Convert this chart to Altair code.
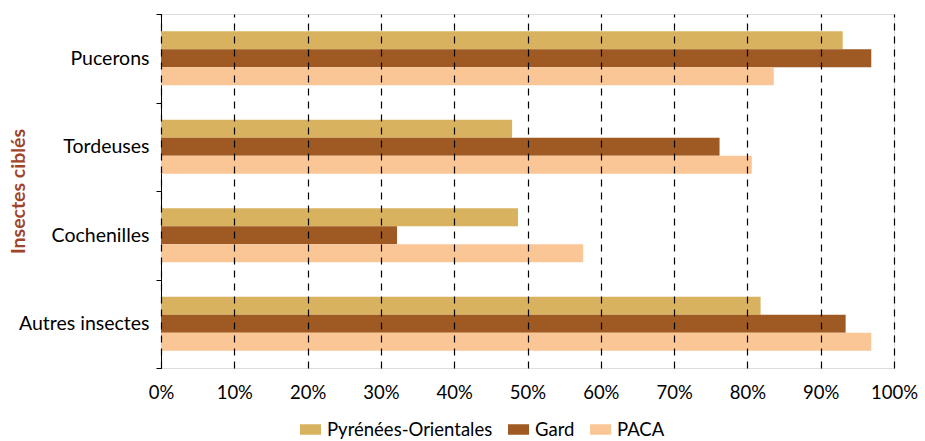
import altair as alt
import pandas as pd

categories = ["Pucerons", "Tordeuses", "Cochenilles", "Autres insectes"]
series = ["Pyrénées-Orientales", "Gard", "PACA"]
po = [93.0, 47.9, 48.7, 81.8]
gard = [96.9, 76.2, 32.2, 93.4]
paca = [83.6, 80.6, 57.6, 96.9]
colors = ["#D8B25F", "#9E5A22", "#FBC696"]
tick_values = [0, 10, 20, 30, 40, 50, 60, 70, 80, 90, 100]

rows = []
for s, vals in zip(series, [po, gard, paca]):
    for c, v in zip(categories, vals):
        rows.append({"cat": c, "serie": s, "val": v / 100})
df = pd.DataFrame(rows)

FONT = "Lato"

chart = alt.Chart(df).mark_bar().encode(
    x=alt.X(
        "val:Q",
        scale=alt.Scale(domain=[0, 1], nice=False),
        axis=alt.Axis(
            format=".0%", values=[t / 100 for t in tick_values],
            grid=True, gridDash=[7, 6], gridColor="black", gridWidth=1.2,
            domain=False, ticks=False, labelPadding=15, labelFontSize=18.5,
            labelFont=FONT, labelColor="black", title=None, zindex=1,
            labelFlush=False,
        ),
    ),
    y=alt.Y(
        "cat:N", sort=categories,
        scale=alt.Scale(paddingInner=0, paddingOuter=0),
        axis=alt.Axis(
            title="Insectes ciblés", tickBand="extent", tickSize=5,
            tickColor="black", domainColor="black", labelPadding=7,
            labelFontSize=19.5, labelFont=FONT, labelColor="black",
            labelFontWeight="normal",
            titleFont=FONT, titleFontSize=19.5, titleFontWeight="bold",
            titleColor="#A0442C", titleX=-143, titleY=177,
            titleAngle=270, titleAlign="center", titleBaseline="middle",
            grid=False,
        ),
    ),
    yOffset=alt.YOffset("serie:N", sort=series,
                        scale=alt.Scale(paddingInner=0, paddingOuter=0.958)),
    color=alt.Color(
        "serie:N", sort=series,
        scale=alt.Scale(domain=series, range=colors),
        legend=alt.Legend(
            orient="none", legendX=139, legendY=405, direction="horizontal",
            title=None, symbolType="M-1,-0.5H1V0.5H-1Z", symbolSize=441,
            symbolStrokeWidth=0, labelFontSize=18.5, labelFont=FONT,
            labelColor="black", columnPadding=15, labelOffset=6,
            labelLimit=400,
        ),
    ),
).properties(
    width=733, height=354,
    autosize=alt.AutoSizeParams(type="none"),
    padding={"left": 161, "top": 14, "right": 31, "bottom": 73},
).configure_view(stroke=None).configure(background="white")

chart.save("out.html", embed_options={"renderer": "svg", "actions": False})
